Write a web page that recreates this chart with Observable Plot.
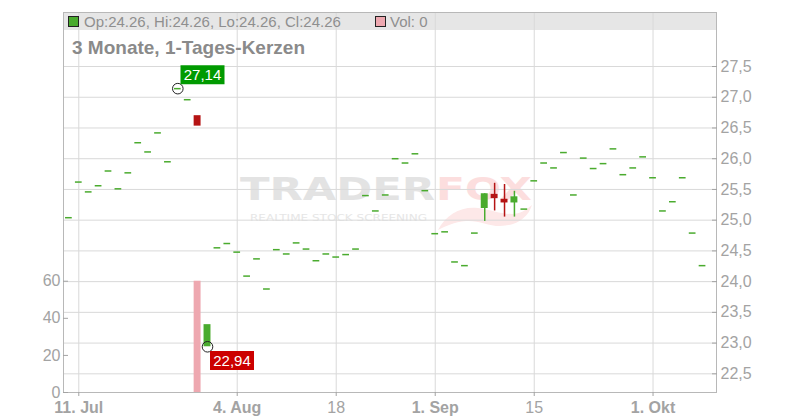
<!DOCTYPE html>
<html>
<head>
<meta charset="utf-8">
<script src="https://cdn.jsdelivr.net/npm/d3@7"></script>
<script src="https://cdn.jsdelivr.net/npm/@observablehq/plot@0.6"></script>
<style>
  html, body { margin: 0; padding: 0; background: #fff; }
  #chart { position: relative; width: 800px; height: 420px; overflow: hidden; font-family: "Liberation Sans", Arial, sans-serif; }
  #chart > * { position: absolute; left: 0; top: 0; }
</style>
</head>
<body>
<div id="chart">
  <svg id="under" width="800" height="420">
    <rect x="63" y="12" width="653" height="18" fill="#e6e6e6"></rect>
    <g font-family="DejaVu Sans, sans-serif" font-weight="bold">
      <text x="240" y="200" font-size="32" textLength="195" lengthAdjust="spacingAndGlyphs" fill="#e3e3e3">TRADER</text>
      <text x="436" y="200" font-size="32" textLength="96" lengthAdjust="spacingAndGlyphs" fill="#fcdede">FOX</text>
      <text x="250" y="221" font-size="8.5" font-weight="normal" textLength="177" lengthAdjust="spacingAndGlyphs" fill="#e6e6e6">REALTIME STOCK SCREENING</text>
      <path d="M438,230 C446,214 462,206 478,208 C492,210 500,214 512,214 C520,214 526,210 532,205 C528,218 516,226 500,226 C488,226 478,220 466,221 C454,222 446,226 438,230 Z" fill="#fde8e8"></path>
    </g>
  </svg>
</div>
<script>
// ---- data ----
const close = [
  25.04, 25.62, 25.46, 25.56, 25.80, 25.51, 25.77, 26.26, 26.11, 26.42,
  25.95, 27.14, 26.96, 26.53, 23.30, 24.55, 24.62, 24.48, 24.09, 24.37,
  23.88, 24.52, 24.45, 24.63, 24.53, 24.34, 24.45, 24.40, 24.44, 24.53,
  25.40, 25.15, 25.41, 26.00, 25.93, 26.08, 25.48, 24.78, 24.81, 24.32,
  24.26, 24.79, 25.43, 25.35, 25.28, 25.38, 25.18, 25.64, 25.93, 25.85,
  26.10, 25.41, 26.01, 25.84, 25.92, 26.16, 25.74, 25.85, 26.03, 25.69,
  25.15, 25.30, 25.69, 24.79, 24.26
];
const candleIdx  = [13, 14, 42, 43, 44, 45];
const candleOpen = [26.70, 22.94, 25.19, 25.42, 25.34, 25.28];
const candleHigh = [26.70, 23.30, 25.43, 25.60, 25.58, 25.47];
const candleLow  = [26.53, 22.94, 24.98, 25.15, 25.05, 25.05];
const volume = [
  0, 0, 0, 0, 0, 0, 0, 0, 0, 0,
  0, 0, 0, 60, 0, 0, 0, 0, 0, 0,
  0, 0, 0, 0, 0, 0, 0, 0, 0, 0,
  0, 0, 0, 0, 0, 0, 0, 0, 0, 0,
  0, 0, 0, 0, 0, 0, 0, 0, 0, 0,
  0, 0, 0, 0, 0, 0, 0, 0, 0, 0,
  0, 0, 0, 0, 0
];
const xTickIndex = [1, 17, 27, 37, 47, 59];
const xTickLabel = ["11. Jul", "4. Aug", "18", "1. Sep", "15", "1. Okt"];
const xTickBold  = [true, true, false, true, false, true];
const priceTicks = [22.5, 23, 23.5, 24, 24.5, 25, 25.5, 26, 26.5, 27, 27.5];
const volTicks = [0, 20, 40, 60];
const header = { op: "24.26", hi: "24.26", lo: "24.26", cl: "24.26", vol: "0" };
const title = "3 Monate, 1-Tages-Kerzen";

// ---- table ----
const rows = close.map((c, i) => {
  const k = candleIdx.indexOf(i);
  return {
    i, close: c, volume: volume[i],
    open: k < 0 ? c : candleOpen[k],
    high: k < 0 ? c : candleHigh[k],
    low: k < 0 ? c : candleLow[k]
  };
});
const flat = rows.filter(d => d.open === d.close && d.high === d.low);
const candles = rows.filter(d => !(d.open === d.close && d.high === d.low));
const hiRow = rows.reduce((a, b) => (b.high > a.high ? b : a));
const loRow = rows.reduce((a, b) => (b.low < a.low ? b : a));
const GREEN = "#4aab2e", RED = "#b51414";
const col = d => (d.close >= d.open ? GREEN : RED);
const fmt = v => v.toFixed(2).replace(".", ",");
const labelMap = new Map(xTickIndex.map((t, k) => [t, xTickLabel[k]]));

const boxSymbol = (x0, y0, w, h) => ({ draw(ctx) { ctx.rect(x0, y0, w, h); } });

const common = {
  width: 800, height: 420,
  marginTop: 12, marginBottom: 28, marginLeft: 63, marginRight: 84,
  style: { background: "transparent", fontFamily: "'Liberation Sans', Arial, sans-serif", overflow: "visible" }
};
const xDomain = [-0.545, 65.41];

const pricePlot = Plot.plot({
  ...common,
  x: { type: "linear", domain: xDomain, axis: null, label: null },
  y: { domain: [22.196, 28.379], axis: null, label: null },
  marks: [
    Plot.gridX(xTickIndex, { stroke: "#d9d9d9", strokeOpacity: 1 }),
    Plot.gridY(priceTicks, { stroke: "#d9d9d9", strokeOpacity: 1 }),
    Plot.frame({ stroke: "#b8b8b8" }),
    Plot.axisY(priceTicks, {
      anchor: "right", label: null, tickSize: -5, tickPadding: 9, fontSize: 16, color: "#a3a3a3",
      tickFormat: d => d.toFixed(1).replace(".", ",")
    }),
    Plot.axisX(xTickIndex.filter((t, k) => xTickBold[k]), {
      anchor: "bottom", label: null, tickSize: 4, tickPadding: 5, fontSize: 16, fontWeight: "bold", color: "#a3a3a3",
      tickFormat: t => labelMap.get(t)
    }),
    Plot.axisX(xTickIndex.filter((t, k) => !xTickBold[k]), {
      anchor: "bottom", label: null, tickSize: 4, tickPadding: 5, fontSize: 16, color: "#a3a3a3",
      tickFormat: t => labelMap.get(t)
    }),
    Plot.ruleY(flat, { y: "close", x1: d => d.i - 0.34, x2: d => d.i + 0.34, stroke: GREEN, strokeWidth: 1.5 }),
    Plot.ruleX(candles.filter(d => d.high > Math.max(d.open, d.close) || d.low < Math.min(d.open, d.close)),
      { x: "i", y1: "low", y2: "high", stroke: col, strokeWidth: 1.5 }),
    Plot.rect(candles, { x1: d => d.i - 0.35, x2: d => d.i + 0.35, y1: "open", y2: "close", fill: col }),
    Plot.dot([hiRow], { x: "i", y: "high", r: 5.3, stroke: "#222", fill: "none", strokeWidth: 1 }),
    Plot.dot([loRow], { x: "i", y: "low", r: 5.3, stroke: "#222", fill: "none", strokeWidth: 1 }),
    Plot.dot([hiRow], { x: "i", y: "high", r: 5, symbol: boxSymbol(2.7, -23.3, 44, 19), fill: "#009a00", stroke: "none" }),
    Plot.dot([loRow], { x: "i", y: "low", r: 5, symbol: boxSymbol(2.5, 4.3, 44, 19), fill: "#cc0000", stroke: "none" }),
    Plot.text([hiRow], { x: "i", y: "high", text: d => fmt(d.high), dx: 24.7, dy: -13.8, fill: "white", fontSize: 15 }),
    Plot.text([loRow], { x: "i", y: "low", text: d => fmt(d.low), dx: 24.5, dy: 14.3, fill: "white", fontSize: 15 })
  ]
});

const volPlot = Plot.plot({
  ...common,
  x: { type: "linear", domain: xDomain, axis: null, label: null },
  y: { domain: [0, 204.9], axis: null, label: null },
  marks: [
    Plot.rect(rows.filter(d => d.volume > 0), {
      x1: d => d.i - 0.35, x2: d => d.i + 0.35, y1: 0, y2: "volume", fill: "#eea8b0"
    }),
    Plot.axisY(volTicks, { anchor: "left", label: null, tickSize: -5, tickPadding: 8, fontSize: 16, color: "#a3a3a3" })
  ]
});

const chart = document.getElementById("chart");
chart.appendChild(pricePlot);
chart.appendChild(volPlot);

// header / title overlay
const ns = "http://www.w3.org/2000/svg";
const over = document.createElementNS(ns, "svg");
over.setAttribute("width", 800); over.setAttribute("height", 420);
over.style.pointerEvents = "none";
over.innerHTML = `
  <g font-family="Liberation Sans, Arial, sans-serif">
    <rect x="68.5" y="16.5" width="10" height="10" fill="${GREEN}" stroke="#222"></rect>
    <text x="84" y="27" font-size="15" fill="#8f8f8f">Op:${header.op}, Hi:${header.hi}, Lo:${header.lo}, Cl:${header.cl}</text>
    <rect x="375.5" y="16.5" width="10" height="10" fill="#eea8b0" stroke="#222"></rect>
    <text x="390" y="27" font-size="15" fill="#8f8f8f">Vol: ${header.vol}</text>
    <text x="72" y="53.5" font-size="19" font-weight="bold" fill="#8a8a8a">${title}</text>
  </g>`;
chart.appendChild(over);
</script>
</body>
</html>
